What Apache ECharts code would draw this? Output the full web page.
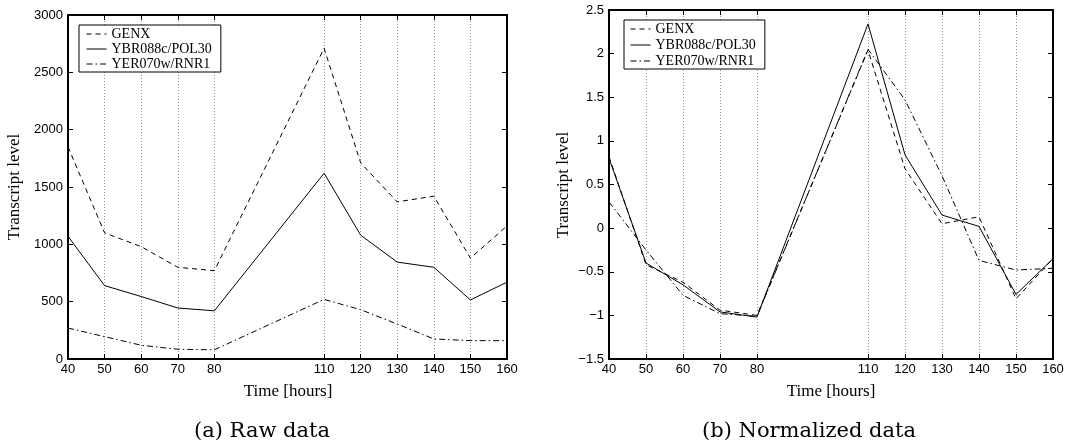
<!DOCTYPE html>
<html>
<head>
<meta charset="utf-8">
<script src="https://cdn.jsdelivr.net/npm/echarts@6/dist/echarts.min.js"></script>
<style>
  html, body { margin: 0; padding: 0; background: #fff; }
  #main { width: 1067px; height: 445px; }
</style>
</head>
<body>
<div id="main"></div>
<script>
// time points (hours) and the ticks shown on the x axis
const hours = [40, 50, 60, 70, 80, 110, 120, 130, 140, 150, 160];
const xTicks = [40, 50, 60, 70, 80, 110, 120, 130, 140, 150, 160];
const seriesNames = ["GENX", "YBR088c/POL30", "YER070w/RNR1"];

// (a) raw data
const rawGenx = [1850, 1100, 980, 800, 770, 2710, 1710, 1370, 1420, 880, 1160];
const rawPol30 = [1070, 640, 545, 445, 420, 1620, 1080, 845, 800, 515, 670];
const rawRnr1 = [270, 195, 120, 85, 80, 520, 430, 305, 175, 160, 160];

// (b) normalized data
const normGenx = [0.82, -0.42, -0.62, -0.94, -1.0, 2.04, 0.68, 0.05, 0.13, -0.81, -0.35];
const normPol30 = [0.8, -0.4, -0.65, -0.96, -1.02, 2.34, 0.84, 0.15, 0.02, -0.76, -0.35];
const normRnr1 = [0.3, -0.25, -0.77, -0.98, -1.01, 2.05, 1.47, 0.6, -0.37, -0.48, -0.46];

const lineTypes = [[5, 4], "solid", [6, 3, 1.5, 3]]; // dashed, solid, dash-dot

const pairs = (vals) => hours.map((h, i) => [h, vals[i]]);
const minusSign = (v) => String(v).replace("-", "\u2212");

const sansFont = "Liberation Sans";
const serifFont = "Liberation Serif";

// 坐标轴：底部带刻度与网格，顶部/右侧只画内刻度
function bottomX(grid) {
  return {
    type: "value", gridIndex: grid, position: "bottom", min: 40, max: 160,
    axisLine: { show: true, onZero: false, lineStyle: { color: "#000", width: 2 } },
    axisTick: { show: true, inside: true, length: 5, customValues: xTicks, lineStyle: { color: "#000" } },
    axisLabel: { customValues: xTicks, margin: 4, color: "#000", fontSize: 13, fontFamily: sansFont },
    splitLine: { show: true, lineStyle: { color: "#999", width: 1, type: [1, 2] } },
  };
}
function topX(grid) {
  return {
    type: "value", gridIndex: grid, position: "top", min: 40, max: 160,
    axisLine: { show: true, onZero: false, lineStyle: { color: "#000", width: 2 } },
    axisTick: { show: true, inside: true, length: 5, customValues: xTicks, lineStyle: { color: "#000" } },
    axisLabel: { show: false },
    splitLine: { show: false },
  };
}
function sideY(grid, pos, min, max, step, labels) {
  return {
    type: "value", gridIndex: grid, position: pos, min: min, max: max, interval: step,
    axisLine: { show: true, onZero: false, lineStyle: { color: "#000", width: 2 } },
    axisTick: { show: true, inside: true, length: 5, lineStyle: { color: "#000" } },
    axisLabel: { show: labels, margin: 5, color: "#000", fontSize: 13, fontFamily: sansFont, formatter: minusSign },
    splitLine: { show: false },
  };
}

function lineSeries(idx, grid, vals) {
  return {
    name: seriesNames[idx],
    type: "line",
    xAxisIndex: grid * 2,
    yAxisIndex: grid * 2,
    data: pairs(vals),
    symbol: "none",
    lineStyle: { color: "#000", width: 1, type: lineTypes[idx] },
    itemStyle: { color: "#000" },
  };
}

function legendBox(grid, left, top, gap, pad) {
  return {
    orient: "vertical",
    left: left, top: top,
    itemWidth: 20, itemHeight: 14, itemGap: gap, itemTextGap: 7,
    padding: pad,
    borderColor: "#000", borderWidth: 1, backgroundColor: "#fff",
    selectedMode: false,
    data: seriesNames,
    itemStyle: { opacity: 0, borderWidth: 0 },
    lineStyle: { width: 1 },
    textStyle: { color: "#000", fontSize: 14, fontFamily: serifFont },
  };
}

function label(text, x, y, size, font, rot) {
  return {
    type: "text", x: x, y: y, rotation: rot || 0,
    style: { text: text, fill: "#000", font: size + "px '" + font + "'", textAlign: "center", textVerticalAlign: "middle" },
  };
}

const chart = echarts.init(document.getElementById("main"));
chart.setOption({
  animation: false,
  backgroundColor: "#fff",
  grid: [
    { left: 68, top: 15, width: 439, height: 344 },
    { left: 609, top: 10, width: 444, height: 349 },
  ],
  xAxis: [bottomX(0), topX(0), bottomX(1), topX(1)],
  yAxis: [
    sideY(0, "left", 0, 3000, 500, true),
    sideY(0, "right", 0, 3000, 500, false),
    sideY(1, "left", -1.5, 2.5, 0.5, true),
    sideY(1, "right", -1.5, 2.5, 0.5, false),
  ],
  legend: [legendBox(0, 79, 25, 1, [2, 9, 1, 7]), legendBox(1, 624, 20, 2, [2, 9, 1, 6])],
  graphic: [
    label("Transcript level", 15, 187, 17, serifFont, Math.PI / 2),
    label("Transcript level", 564, 185, 17, serifFont, Math.PI / 2),
    label("Time [hours]", 288, 392, 17, serifFont),
    label("Time [hours]", 831, 392, 17, serifFont),
    label("(a) Raw data", 262, 432, 21, "DejaVu Serif"),
    label("(b) Normalized data", 809, 432, 21, "DejaVu Serif"),
  ],
  series: [
    lineSeries(0, 0, rawGenx),
    lineSeries(1, 0, rawPol30),
    lineSeries(2, 0, rawRnr1),
    lineSeries(0, 1, normGenx),
    lineSeries(1, 1, normPol30),
    lineSeries(2, 1, normRnr1),
  ],
});
</script>
</body>
</html>
